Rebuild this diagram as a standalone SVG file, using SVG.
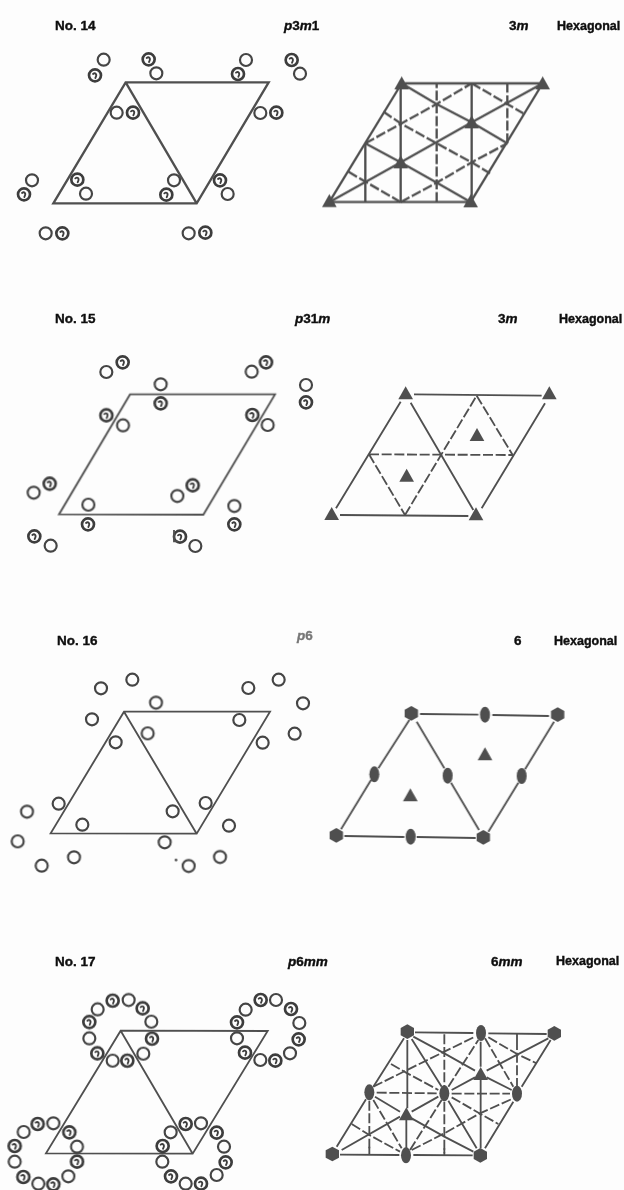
<svg xmlns="http://www.w3.org/2000/svg" width="624" height="1190" viewBox="0 0 624 1190">
<style>
text{font-family:"Liberation Sans",Arial,sans-serif;font-weight:700;font-size:13.5px;fill:#0a0a0a;stroke:#0a0a0a;stroke-width:.35}
.i{font-style:italic}.n{font-style:normal}
.hx{font-size:12.5px}
.g{fill:#777;stroke:#777}
.o{fill:none;stroke:#444;stroke-width:6.5}
.q{fill:none;stroke:#3c3c3c;stroke-width:8}
.m{fill:none;stroke:#3c3c3c;stroke-width:5.5;stroke-linecap:round}
.l{fill:none;stroke:#505050;stroke-width:5.5;stroke-linejoin:miter}
.l6{fill:none;stroke:#505050;stroke-width:7}
.d{stroke-dasharray:30 8}
.s{fill:#505050;stroke:none}
.soft{filter:url(#b)}
</style>
<defs>
<filter id="b" x="-5%" y="-5%" width="110%" height="110%"><feGaussianBlur stdDeviation="0.45"/></filter>
<g id="o"><circle r="18" class="o"/></g>
<g id="q"><circle r="18" class="q"/><path d="M-6,-4C0,-9 8,-4 1,8" class="m"/></g>
<polygon id="t" class="s" points="0,-21 22,18 -22,18"/>
<polygon id="h" class="s" points="0,-22 20,-11 20,11 0,22 -20,11 -20,-11"/>
<ellipse id="e" class="s" rx="15" ry="24"/>
</defs>
<rect width="624" height="1190" fill="#fdfdfd"/>

<g id="labels" class="soft">
<text x="55" y="30">No. 14</text>
<text x="284" y="30" class="i">p<tspan class="n">3</tspan>m<tspan class="n">1</tspan></text>
<text x="509" y="30">3<tspan class="i">m</tspan></text>
<text x="557" y="30" class="hx">Hexagonal</text>
<text x="55" y="323">No. 15</text>
<text x="295" y="323" class="i">p<tspan class="n">31</tspan>m</text>
<text x="498" y="323">3<tspan class="i">m</tspan></text>
<text x="559" y="323" class="hx">Hexagonal</text>
<text x="57" y="645">No. 16</text>
<text x="297" y="640" class="i g">p<tspan class="n">6</tspan></text>
<text x="514" y="645">6</text>
<text x="554" y="645" class="hx">Hexagonal</text>
<text x="55" y="966">No. 17</text>
<text x="288" y="966" class="i">p<tspan class="n">6</tspan>mm</text>
<text x="491" y="966">6<tspan class="i">mm</tspan></text>
<text x="556" y="965" class="hx">Hexagonal</text>
</g>

<g class="soft">
<g id="motif14" transform="translate(0,30) scale(.33333)">
<path class="l6" d="M160,520H590L806,157H377ZM377,157L590,520"/>
<use href="#o" x="311" y="89"/><use href="#q" x="285" y="136"/>
<use href="#q" x="446" y="88"/><use href="#o" x="469" y="130"/>
<use href="#o" x="738" y="90"/><use href="#q" x="714" y="132"/>
<use href="#q" x="875" y="90"/><use href="#o" x="900" y="131"/>
<use href="#o" x="350" y="248"/><use href="#q" x="399" y="248"/>
<use href="#o" x="781" y="249"/><use href="#q" x="829" y="248"/>
<use href="#q" x="232" y="449"/><use href="#o" x="258" y="491"/>
<use href="#o" x="522" y="451"/><use href="#q" x="499" y="494"/>
<use href="#q" x="660" y="451"/><use href="#o" x="683" y="492"/>
<use href="#o" x="96" y="451"/><use href="#q" x="72" y="493"/>
<use href="#o" x="137" y="610"/><use href="#q" x="187" y="610"/>
<use href="#o" x="566" y="610"/><use href="#q" x="616" y="608"/>
</g>

<g id="lattice14" transform="translate(310,30) scale(.33333)">
<g id="connectors14">
<path class="l6" d="M58,516H482M275,160H698M58,516L275,160M482,516L698,160"/>
<path class="l6" d="M166,516V340M272,516V160M485,516V160"/>
<path class="l6 d" d="M380,516V160M592,340V160"/>
<path class="l6" d="M58,516L272,397L485,277L698,160"/>
<path class="l6 d" d="M166,340L380,222L485,160M272,516L380,458L485,397L592,340"/>
<path class="l6" d="M275,160L380,222L485,277L592,340M166,340L272,397L380,458L482,516"/>
<path class="l6 d" d="M115,425L166,455L272,516M220,245L272,280L380,340L485,397L540,430M485,160L592,222L640,250"/>
</g>
<use href="#t" x="275" y="160"/><use href="#t" x="698" y="160"/><use href="#t" x="485" y="277"/>
<use href="#t" x="272" y="397"/><use href="#t" x="58" y="513"/><use href="#t" x="482" y="514"/>
</g>

<g id="motif15" transform="translate(0,340) scale(.33333)">
<path class="l" d="M177,523L610,524L825,163H390Z"/>
<use href="#o" x="319" y="96"/><use href="#q" x="368" y="67"/>
<use href="#o" x="482" y="133"/><use href="#q" x="482" y="190"/>
<use href="#o" x="755" y="95"/><use href="#q" x="798" y="67"/>
<use href="#o" x="918" y="135"/><use href="#q" x="918" y="187"/>
<use href="#q" x="319" y="226"/><use href="#o" x="369" y="256"/>
<use href="#q" x="757" y="225"/><use href="#o" x="803" y="255"/>
<use href="#q" x="149" y="431"/><use href="#o" x="101" y="458"/>
<use href="#o" x="265" y="494"/><use href="#q" x="264" y="553"/>
<use href="#q" x="578" y="436"/><use href="#o" x="532" y="468"/>
<use href="#o" x="703" y="498"/><use href="#q" x="703" y="553"/>
<use href="#q" x="103" y="589"/><use href="#o" x="152" y="617"/>
<use href="#q" x="540" y="590"/><use href="#o" x="586" y="618"/>
<path class="l" d="M522,570V604H535"/>
</g>

<g id="lattice15" transform="translate(310,340) scale(.33333)">
<g id="connectors15">
<path class="l" d="M312,163L695,167M78,505L272,185M302,188L490,510M515,505L705,190M90,525L475,528"/>
<path class="l d" d="M177,343L610,345M177,343L285,525M285,525L500,167M500,167L608,345"/>
</g>
<use href="#t" x="287" y="160"/><use href="#t" x="718" y="160"/><use href="#t" x="65" y="522"/>
<use href="#t" x="498" y="523"/><use href="#t" x="501" y="285"/><use href="#t" x="290" y="407"/>
</g>

<g id="motif16" transform="translate(0,640) scale(.33333)">
<path class="l" d="M152,580L590,581L810,215H372ZM372,215L590,581"/>
<use href="#o" x="303" y="145"/><use href="#o" x="397" y="119"/><use href="#o" x="468" y="188"/>
<use href="#o" x="276" y="238"/><use href="#o" x="347" y="307"/><use href="#o" x="443" y="280"/>
<use href="#o" x="745" y="144"/><use href="#o" x="836" y="119"/><use href="#o" x="909" y="190"/>
<use href="#o" x="718" y="240"/><use href="#o" x="788" y="308"/><use href="#o" x="884" y="281"/>
<use href="#o" x="176" y="491"/><use href="#o" x="81" y="515"/><use href="#o" x="53" y="604"/>
<use href="#o" x="247" y="554"/><use href="#o" x="222" y="652"/><use href="#o" x="125" y="677"/>
<use href="#o" x="518" y="514"/><use href="#o" x="617" y="489"/><use href="#o" x="494" y="607"/>
<use href="#o" x="687" y="557"/><use href="#o" x="660" y="651"/><use href="#o" x="566" y="678"/>
<circle cx="528" cy="660" r="4" fill="#444"/>
</g>

<g id="lattice16" transform="translate(310,640) scale(.33333)">
<g id="connectors16">
<path class="l" d="M330,222L505,224M547,225L717,228M93,568L183,420M205,385L298,240M320,245L403,385M423,428L507,570M535,575L625,428M645,388L732,245M103,588L283,591M320,591L497,594"/>
</g>
<use href="#h" x="304" y="220"/><use href="#h" x="743" y="224"/><use href="#h" x="79" y="586"/><use href="#h" x="520" y="592"/>
<use href="#e" x="525" y="224"/><use href="#e" x="193" y="403"/><use href="#e" x="413" y="407"/><use href="#e" x="635" y="408"/><use href="#e" x="302" y="590"/>
<use href="#t" x="525" y="343"/><use href="#t" x="301" y="466"/>
</g>

<g id="motif17" transform="translate(0,940) scale(.33333)">
<path class="l" d="M138,640L578,641L803,273L362,272ZM362,272L578,641"/>
<use href="#q" x="338" y="182"/><use href="#o" x="386" y="180"/><use href="#q" x="428" y="205"/><use href="#o" x="454" y="245"/><use href="#q" x="456" y="296"/><use href="#o" x="430" y="341"/><use href="#q" x="382" y="362"/><use href="#o" x="338" y="362"/><use href="#q" x="292" y="340"/><use href="#o" x="268" y="295"/><use href="#q" x="268" y="246"/><use href="#o" x="293" y="208"/>
<use href="#q" x="782" y="180"/><use href="#o" x="828" y="180"/><use href="#q" x="873" y="207"/><use href="#o" x="898" y="249"/><use href="#q" x="896" y="298"/><use href="#o" x="870" y="340"/><use href="#q" x="826" y="362"/><use href="#o" x="781" y="360"/><use href="#q" x="735" y="338"/><use href="#o" x="711" y="295"/><use href="#q" x="711" y="247"/><use href="#o" x="737" y="209"/>
<use href="#q" x="113" y="552"/><use href="#o" x="160" y="550"/><use href="#q" x="208" y="577"/><use href="#o" x="231" y="620"/><use href="#q" x="231" y="665"/><use href="#o" x="205" y="709"/><use href="#q" x="160" y="733"/><use href="#o" x="115" y="731"/><use href="#q" x="70" y="711"/><use href="#o" x="44" y="665"/><use href="#q" x="44" y="618"/><use href="#o" x="71" y="576"/>
<use href="#q" x="557" y="552"/><use href="#o" x="603" y="550"/><use href="#q" x="650" y="578"/><use href="#o" x="672" y="620"/><use href="#q" x="677" y="667"/><use href="#o" x="650" y="705"/><use href="#q" x="603" y="731"/><use href="#o" x="557" y="731"/><use href="#q" x="513" y="709"/><use href="#o" x="487" y="665"/><use href="#q" x="488" y="618"/><use href="#o" x="512" y="577"/>
</g>

<g id="lattice17" transform="translate(310,940) scale(.33333)">
<g id="connectors17">
<path class="l" d="M315,277L490,279M535,280L710,282M80,620L168,478M190,440L282,295M525,625L610,485M635,440L722,300M90,644L268,645M310,645L488,646M305,297L395,440M415,482L500,625"/>
<path class="l" d="M292,300V505M289,540V625M512,305V380M512,415V625M178,620V642M403,625V645M621,282V300"/>
<path class="l d" d="M178,482V625M403,283V440M403,485V640M621,300V440M200,458L380,460M425,461L600,461"/>
<path class="l" d="M95,630L270,530M305,515L385,470M425,450L495,412M530,392L715,295"/>
<path class="l d" d="M190,440L403,335L495,290M305,630L403,580L510,520L610,475"/>
<path class="l" d="M310,290L403,340L495,392M530,412L605,450M195,470L270,515M305,535L403,590L490,635"/>
<path class="l d" d="M125,552L178,585L270,635M243,372L292,400L385,450M425,472L512,522L565,552M535,292L621,342L680,370"/>
<path class="l d" d="M300,630L395,480M415,440L505,300M190,480L275,625M525,295L610,440"/>
</g>
<use href="#h" x="292" y="275"/><use href="#h" x="733" y="280"/><use href="#h" x="67" y="642"/><use href="#h" x="511" y="646"/>
<use href="#e" x="513" y="279"/><use href="#e" x="178" y="457"/><use href="#e" x="403" y="460"/><use href="#e" x="621" y="461"/><use href="#e" x="288" y="646"/>
<use href="#t" x="512" y="402"/><use href="#t" x="289" y="523"/>
</g>
</g>
</svg>
